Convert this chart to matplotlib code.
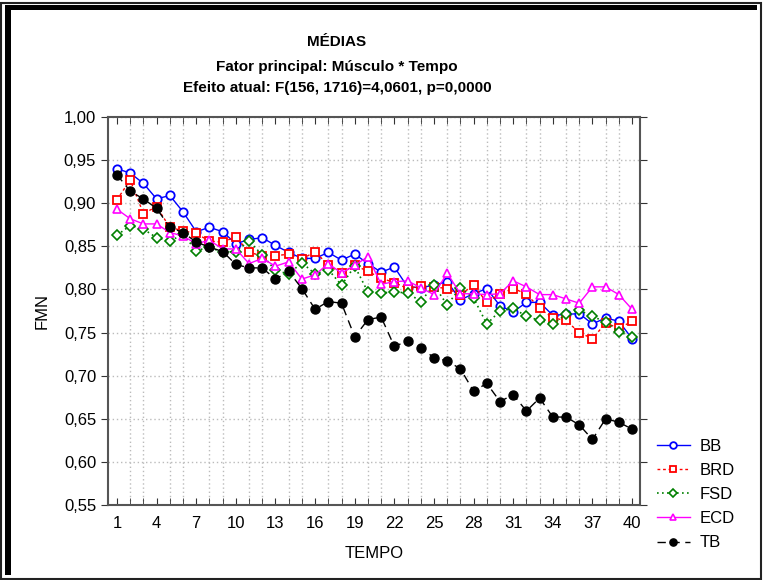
import matplotlib.pyplot as plt
from matplotlib.patches import Rectangle

plt.rcParams['font.family'] = ['Liberation Sans', 'DejaVu Sans']

tempo = list(range(1, 41))

bb = [0.940, 0.935, 0.923, 0.905, 0.909, 0.890, 0.867, 0.872, 0.867, 0.853,
      0.858, 0.860, 0.851, 0.843, 0.836, 0.836, 0.843, 0.834, 0.841, 0.830,
      0.820, 0.826, 0.803, 0.802, 0.805, 0.809, 0.788, 0.795, 0.801, 0.781,
      0.774, 0.785, 0.785, 0.770, 0.771, 0.772, 0.760, 0.767, 0.763, 0.743]
brd = [0.904, 0.927, 0.888, 0.896, 0.872, 0.868, 0.865, 0.856, 0.855, 0.861,
       0.843, 0.839, 0.839, 0.841, 0.835, 0.844, 0.828, 0.819, 0.828, 0.821,
       0.813, 0.808, 0.801, 0.804, 0.803, 0.801, 0.794, 0.805, 0.785, 0.795,
       0.801, 0.795, 0.778, 0.767, 0.764, 0.750, 0.743, 0.761, 0.755, 0.763]
fsd = [0.863, 0.874, 0.870, 0.860, 0.856, 0.864, 0.845, 0.849, 0.843, 0.844,
       0.856, 0.840, 0.822, 0.818, 0.831, 0.818, 0.823, 0.805, 0.827, 0.797,
       0.796, 0.797, 0.796, 0.786, 0.805, 0.782, 0.802, 0.790, 0.760, 0.775,
       0.778, 0.769, 0.764, 0.760, 0.771, 0.776, 0.769, 0.762, 0.751, 0.745]
ecd = [0.893, 0.882, 0.876, 0.876, 0.866, 0.862, 0.853, 0.857, 0.847, 0.847,
       0.830, 0.836, 0.827, 0.832, 0.812, 0.817, 0.830, 0.819, 0.828, 0.838,
       0.806, 0.809, 0.810, 0.802, 0.794, 0.819, 0.795, 0.795, 0.794, 0.795,
       0.810, 0.803, 0.794, 0.794, 0.789, 0.784, 0.803, 0.803, 0.794, 0.777]
tb = [0.933, 0.914, 0.905, 0.894, 0.872, 0.866, 0.855, 0.849, 0.844, 0.829,
      0.825, 0.825, 0.812, 0.821, 0.801, 0.777, 0.786, 0.784, 0.745, 0.765,
      0.768, 0.734, 0.740, 0.732, 0.721, 0.717, 0.708, 0.682, 0.691, 0.670,
      0.678, 0.659, 0.674, 0.652, 0.652, 0.643, 0.626, 0.650, 0.646, 0.638]

xtick_pos = list(range(1, 41, 3))
ytick_pos = [0.55, 0.60, 0.65, 0.70, 0.75, 0.80, 0.85, 0.90, 0.95, 1.00]
ytick_labels = ['0,55', '0,60', '0,65', '0,70', '0,75', '0,80', '0,85', '0,90', '0,95', '1,00']

fig = plt.figure(figsize=(7.63, 5.8), dpi=100)
ax = fig.add_axes([108 / 763, 1 - 505 / 580, 532 / 763, 388 / 580])

ax.plot(tempo, bb, color='blue', linestyle='-', linewidth=1, marker='o',
        markersize=6, markerfacecolor='white', markeredgewidth=1.3, label='BB')
ax.plot(tempo, brd, color='red', linestyle=(0, (2, 2)), linewidth=1, marker='s',
        markersize=6, markerfacecolor='white', markeredgewidth=1.3, label='BRD')
ax.plot(tempo, fsd, color='green', linestyle=(0, (1, 2)), linewidth=1.2, marker='D',
        markersize=5, markerfacecolor='white', markeredgewidth=1.2, label='FSD')
ax.plot(tempo, ecd, color='magenta', linestyle='-', linewidth=1, marker='^',
        markersize=6, markerfacecolor='white', markeredgewidth=1.2, label='ECD')
ax.plot(tempo, tb, color='black', linestyle=(0, (6, 4)), linewidth=1, marker='o',
        markersize=6.5, markerfacecolor='black', label='TB')

ax.set_xlim(0.32, 40.6)
ax.set_ylim(0.55, 1.00)
ax.set_xticks(xtick_pos)
ax.set_xticks(tempo, minor=True)
ax.set_yticks(ytick_pos)
ax.set_yticklabels(ytick_labels)
ax.tick_params(axis='x', which='both', direction='in', top=True, length=5,
               labelsize=12, pad=8, color='#333333')
ax.tick_params(axis='y', which='both', direction='out', right=True, length=5,
               labelsize=12, color='#333333')
ax.grid(True, which='minor', axis='x', color='#bbbbbb', linestyle=(0, (1, 2)), linewidth=1)
ax.grid(True, which='major', axis='y', color='#bbbbbb', linestyle=(0, (1, 2)), linewidth=1)
for s in ax.spines.values():
    s.set_color('#555555')
    s.set_linewidth(1.5)

ax.set_xlabel('TEMPO', fontsize=12, labelpad=11)
ax.set_ylabel('FMN', fontsize=12, labelpad=10)

fig.text(337 / 763, 1 - 42 / 580, 'MÉDIAS', ha='center', va='center',
         fontsize=11, fontweight='bold')
fig.text(337 / 763, 1 - 67 / 580, 'Fator principal: Músculo * Tempo', ha='center',
         va='center', fontsize=11, fontweight='bold')
fig.text(337 / 763, 1 - 88 / 580, 'Efeito atual: F(156, 1716)=4,0601, p=0,0000',
         ha='center', va='center', fontsize=11, fontweight='bold')

fig.legend(loc='upper left', bbox_to_anchor=(650 / 763, 1 - 432 / 580), frameon=False,
           fontsize=12, handlelength=2.0, handletextpad=0.6, labelspacing=0.55,
           markerscale=0.8, borderaxespad=0)

# moldura
fig.patches.append(Rectangle((1.5 / 763, 1.5 / 580), 759 / 763, 576 / 580,
                             transform=fig.transFigure, fill=False,
                             edgecolor='#222222', linewidth=1.5))
fig.patches.append(Rectangle((5 / 763, 5 / 580), 6 / 763, 570 / 580,
                             transform=fig.transFigure, color='black', linewidth=0))
fig.patches.append(Rectangle((5 / 763, 1 - 10 / 580), 752 / 763, 5 / 580,
                             transform=fig.transFigure, color='black', linewidth=0))

fig.savefig('out.png', dpi=100)
